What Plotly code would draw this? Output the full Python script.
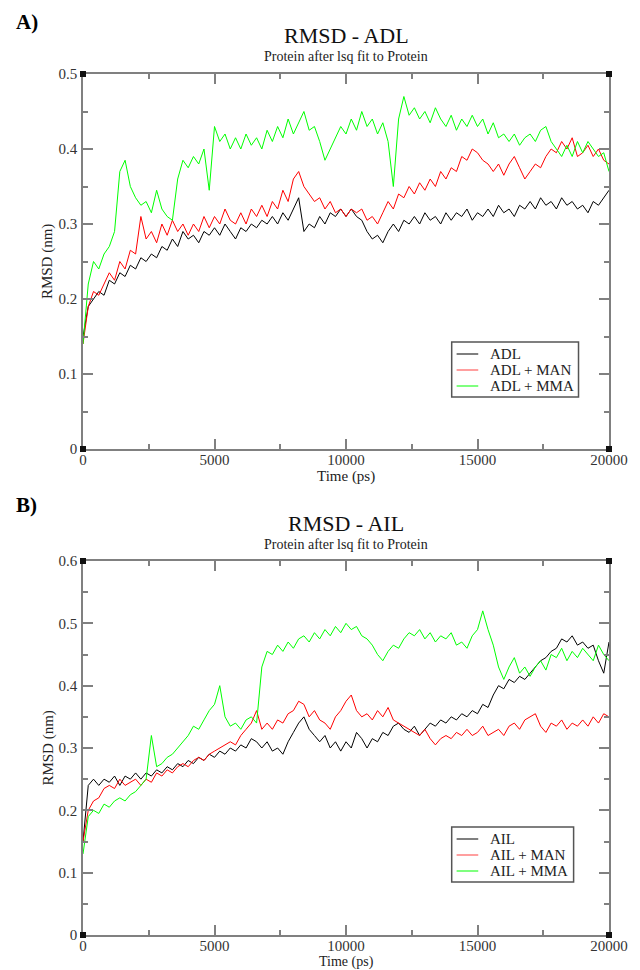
import plotly.graph_objects as go

# ---------------- data ----------------
time_ps = list(range(0, 20001, 200))

adl = [0.15, 0.19, 0.20, 0.21, 0.205, 0.225, 0.22, 0.235, 0.23, 0.245,
       0.24, 0.255, 0.25, 0.26, 0.255, 0.27, 0.265, 0.28, 0.27, 0.29,
       0.28, 0.285, 0.275, 0.29, 0.285, 0.295, 0.285, 0.30, 0.29, 0.28,
       0.295, 0.29, 0.30, 0.295, 0.305, 0.30, 0.31, 0.30, 0.315, 0.305,
       0.32, 0.335, 0.29, 0.30, 0.295, 0.31, 0.30, 0.315, 0.31, 0.32,
       0.31, 0.32, 0.31, 0.305, 0.29, 0.28, 0.285, 0.275, 0.29, 0.30,
       0.29, 0.305, 0.30, 0.31, 0.30, 0.315, 0.305, 0.31, 0.30, 0.315,
       0.305, 0.315, 0.31, 0.32, 0.305, 0.315, 0.31, 0.32, 0.31, 0.325,
       0.315, 0.32, 0.31, 0.325, 0.32, 0.33, 0.32, 0.335, 0.325, 0.33,
       0.32, 0.335, 0.325, 0.33, 0.32, 0.325, 0.315, 0.33, 0.325, 0.335,
       0.345]

adl_man = [0.14, 0.19, 0.21, 0.205, 0.22, 0.235, 0.225, 0.25, 0.24, 0.265,
           0.26, 0.31, 0.28, 0.29, 0.275, 0.30, 0.285, 0.305, 0.29, 0.30,
           0.285, 0.30, 0.29, 0.31, 0.295, 0.31, 0.30, 0.32, 0.305, 0.30,
           0.315, 0.30, 0.32, 0.31, 0.325, 0.31, 0.33, 0.32, 0.345, 0.33,
           0.36, 0.37, 0.35, 0.34, 0.33, 0.335, 0.32, 0.33, 0.315, 0.32,
           0.31, 0.32, 0.315, 0.32, 0.305, 0.31, 0.30, 0.315, 0.33, 0.32,
           0.34, 0.335, 0.35, 0.34, 0.355, 0.345, 0.36, 0.35, 0.37, 0.36,
           0.375, 0.37, 0.39, 0.385, 0.40, 0.395, 0.385, 0.38, 0.37, 0.38,
           0.365, 0.38, 0.39, 0.375, 0.36, 0.37, 0.38, 0.375, 0.39, 0.40,
           0.395, 0.41, 0.40, 0.415, 0.39, 0.395, 0.405, 0.39, 0.40, 0.385,
           0.38]

adl_mma = [0.14, 0.22, 0.25, 0.24, 0.26, 0.27, 0.29, 0.37, 0.385, 0.35,
           0.335, 0.325, 0.33, 0.315, 0.345, 0.32, 0.31, 0.305, 0.36, 0.385,
           0.375, 0.39, 0.38, 0.40, 0.345, 0.43, 0.41, 0.42, 0.40, 0.415,
           0.40, 0.42, 0.405, 0.415, 0.40, 0.425, 0.41, 0.43, 0.415, 0.44,
           0.42, 0.435, 0.45, 0.425, 0.43, 0.41, 0.385, 0.40, 0.415, 0.43,
           0.42, 0.44, 0.425, 0.45, 0.43, 0.44, 0.42, 0.435, 0.41, 0.35,
           0.44, 0.47, 0.445, 0.455, 0.44, 0.45, 0.435, 0.455, 0.44, 0.43,
           0.445, 0.425, 0.44, 0.43, 0.445, 0.43, 0.44, 0.42, 0.435, 0.415,
           0.42, 0.41, 0.42, 0.405, 0.415, 0.42, 0.41, 0.425, 0.43, 0.41,
           0.40, 0.39, 0.405, 0.39, 0.41, 0.395, 0.41, 0.40, 0.39, 0.395,
           0.37]

ail = [0.15, 0.24, 0.25, 0.24, 0.25, 0.245, 0.255, 0.24, 0.255, 0.25,
       0.26, 0.25, 0.26, 0.255, 0.265, 0.26, 0.27, 0.265, 0.275, 0.27,
       0.28, 0.275, 0.285, 0.28, 0.29, 0.285, 0.295, 0.29, 0.30, 0.295,
       0.305, 0.30, 0.315, 0.31, 0.30, 0.31, 0.295, 0.30, 0.29, 0.31,
       0.325, 0.34, 0.35, 0.33, 0.32, 0.31, 0.32, 0.30, 0.31, 0.295,
       0.31, 0.30, 0.325, 0.315, 0.30, 0.315, 0.31, 0.325, 0.32, 0.335,
       0.34, 0.33, 0.325, 0.335, 0.32, 0.33, 0.34, 0.335, 0.345, 0.34,
       0.35, 0.345, 0.355, 0.35, 0.36, 0.355, 0.37, 0.365, 0.385, 0.40,
       0.395, 0.41, 0.405, 0.415, 0.41, 0.42, 0.43, 0.44, 0.445, 0.455,
       0.46, 0.475, 0.47, 0.48, 0.465, 0.47, 0.46, 0.465, 0.44, 0.42,
       0.47]

ail_man = [0.15, 0.20, 0.215, 0.22, 0.235, 0.24, 0.235, 0.25, 0.24, 0.245,
           0.25, 0.24, 0.25, 0.245, 0.26, 0.255, 0.265, 0.26, 0.27, 0.275,
           0.27, 0.28, 0.285, 0.28, 0.29, 0.295, 0.30, 0.305, 0.31, 0.305,
           0.32, 0.33, 0.34, 0.36, 0.33, 0.34, 0.33, 0.345, 0.34, 0.355,
           0.36, 0.375, 0.37, 0.35, 0.36, 0.345, 0.34, 0.33, 0.35, 0.36,
           0.375, 0.385, 0.36, 0.35, 0.355, 0.345, 0.36, 0.35, 0.365, 0.345,
           0.34, 0.335, 0.33, 0.325, 0.32, 0.33, 0.315, 0.305, 0.315, 0.32,
           0.315, 0.325, 0.32, 0.33, 0.32, 0.325, 0.335, 0.32, 0.325, 0.33,
           0.32, 0.335, 0.34, 0.33, 0.345, 0.35, 0.355, 0.335, 0.325, 0.34,
           0.335, 0.345, 0.33, 0.34, 0.335, 0.345, 0.335, 0.35, 0.34, 0.355,
           0.35]

ail_mma = [0.13, 0.19, 0.20, 0.195, 0.21, 0.205, 0.215, 0.22, 0.215, 0.225,
           0.23, 0.24, 0.25, 0.32, 0.27, 0.275, 0.285, 0.29, 0.30, 0.31,
           0.32, 0.335, 0.33, 0.345, 0.36, 0.37, 0.40, 0.35, 0.335, 0.34,
           0.33, 0.345, 0.35, 0.34, 0.43, 0.455, 0.45, 0.465, 0.455, 0.47,
           0.46, 0.475, 0.48, 0.47, 0.485, 0.475, 0.49, 0.48, 0.495, 0.485,
           0.50, 0.49, 0.495, 0.48, 0.475, 0.465, 0.45, 0.44, 0.455, 0.465,
           0.46, 0.475, 0.485, 0.48, 0.49, 0.475, 0.485, 0.47, 0.48, 0.475,
           0.485, 0.465, 0.47, 0.46, 0.48, 0.49, 0.52, 0.49, 0.465, 0.43,
           0.41, 0.43, 0.445, 0.42, 0.43, 0.415, 0.43, 0.44, 0.425, 0.45,
           0.445, 0.46, 0.44, 0.455, 0.445, 0.46, 0.45, 0.44, 0.465, 0.45,
           0.44]

x_ticks = [0, 5000, 10000, 15000, 20000]
x_ticktext = ["0", "5000", "10000", "15000", "20000"]
y_ticks_a = [0, 0.1, 0.2, 0.3, 0.4, 0.5]
y_ticks_b = [0, 0.1, 0.2, 0.3, 0.4, 0.5, 0.6]
series_a = [("ADL", adl), ("ADL + MAN", adl_man), ("ADL + MMA", adl_mma)]
series_b = [("AIL", ail), ("AIL + MAN", ail_man), ("AIL + MMA", ail_mma)]
colors = ["#000000", "#ff0000", "#00ff00"]
legend_colors = ["#555555", "#ff7f7f", "#55ff55"]

# ---------------- figure ----------------
FONT = "Liberation Serif, Times New Roman, serif"
W, H = 640, 970
ML, MR, MT, MB = 83, 22, 74, 35
PW = W - ML - MR
PH = H - MT - MB
FRAME = "#808080"

def py(p):  # pixel y -> paper y
    return 1 - (p - MT) / PH

def px(p):  # pixel x -> paper x
    return (p - ML) / PW

fig = go.Figure()
for (name, vals), c in zip(series_a, colors):
    fig.add_trace(go.Scatter(x=time_ps, y=vals, mode="lines", name=name,
                             line=dict(color=c, width=1), xaxis="x", yaxis="y",
                             showlegend=False))
for (name, vals), c in zip(series_b, colors):
    fig.add_trace(go.Scatter(x=time_ps, y=vals, mode="lines", name=name,
                             line=dict(color=c, width=1), xaxis="x2", yaxis="y2",
                             showlegend=False))

axis_common = dict(showline=True, linecolor=FRAME, linewidth=1.5, mirror="allticks",
                   ticks="inside", ticklen=10, tickcolor=FRAME, tickwidth=1.5,
                   showgrid=False, zeroline=False,
                   tickfont=dict(family=FONT, size=15, color="#333333"))
xminor = dict(dtick=2500, ticks="inside", ticklen=5, tickcolor=FRAME, tickwidth=1.5)
yminor = dict(dtick=0.05, ticks="inside", ticklen=5, tickcolor=FRAME, tickwidth=1.5)

ya_top, ya_bot = py(74), py(449)
yb_top, yb_bot = py(561), py(935)

fig.update_layout(
    width=W, height=H,
    margin=dict(l=ML, r=MR, t=MT, b=MB),
    paper_bgcolor="white", plot_bgcolor="white",
    font=dict(family=FONT, color="#222222"),
    showlegend=False,
    xaxis=dict(domain=[0, 1], range=[0, 20000], tickvals=x_ticks, ticktext=x_ticktext,
               anchor="y", minor=xminor, ticklabelstandoff=-4, **axis_common),
    yaxis=dict(domain=[ya_bot, ya_top], range=[0, 0.5], tickvals=y_ticks_a,
               tickformat="~g", anchor="x", minor=yminor, ticklabelstandoff=1,
               **axis_common),
    xaxis2=dict(domain=[0, 1], range=[0, 20000], tickvals=x_ticks, ticktext=x_ticktext,
                anchor="y2", minor=xminor, ticklabelstandoff=-4, **axis_common),
    yaxis2=dict(domain=[yb_bot, yb_top], range=[0, 0.6], tickvals=y_ticks_b,
                tickformat="~g", anchor="x2", minor=yminor, ticklabelstandoff=1,
                **axis_common),
)

ann = []
shapes = []

def text(t, x, y, size, anchor="center", angle=0, color="#222222", bold=False):
    ann.append(dict(text=("<b>%s</b>" % t) if bold else t, x=px(x), y=py(y),
                    xref="paper", yref="paper", xanchor=anchor, yanchor="middle",
                    showarrow=False, textangle=angle,
                    font=dict(family=FONT, size=size, color=color)))

cx = (83 + 618) / 2
# panel labels, titles, subtitles
text("A)", 13, 22, 21, anchor="left", color="#000000", bold=True)
text("B)", 13, 505, 21, anchor="left", color="#000000", bold=True)
text("RMSD - ADL", cx, 36, 22, color="#111111")
text("Protein after lsq fit to Protein", cx, 57, 14)
text("RMSD - AIL", cx, 523, 22, color="#111111")
text("Protein after lsq fit to Protein", cx, 544, 14)
# axis titles
text("Time (ps)", cx, 477, 15)
text("Time (ps)", cx, 962, 14)
text("RMSD (nm)", 47, (74 + 449) / 2, 15, angle=-90)
text("RMSD (nm)", 47, (561 + 935) / 2, 15, angle=-90)

# legends (Grace style boxes)
def legend(names, box, rows):
    x0, y0, x1, y1 = box
    shapes.append(dict(type="rect", xref="paper", yref="paper",
                       x0=px(x0), x1=px(x1), y0=py(y0), y1=py(y1),
                       line=dict(color="#555555", width=1.5), fillcolor="white"))
    for name, col, ry in zip(names, legend_colors, rows):
        shapes.append(dict(type="line", xref="paper", yref="paper",
                           x0=px(463), x1=px(485), y0=py(ry), y1=py(ry),
                           line=dict(color=col, width=1.5)))
        text(name, 495, ry, 15, anchor="left")

legend([s[0] for s in series_a], (458, 342, 587, 397), (354, 370, 386))
legend([s[0] for s in series_b], (458, 827, 582, 882), (839, 855, 871))

# corner squares (Grace style)
for xr, yr in [("x domain", "y domain"), ("x2 domain", "y2 domain")]:
    for cxn in (0, 1):
        for cyn in (0, 1):
            shapes.append(dict(type="rect", xref=xr, yref=yr, xsizemode="pixel",
                               ysizemode="pixel", xanchor=cxn, yanchor=cyn,
                               x0=-3, x1=3, y0=-3, y1=3,
                               fillcolor="#111111", line=dict(width=0)))

fig.update_layout(annotations=ann, shapes=shapes)
fig.write_html("out.html", config={"displayModeBar": False},
               post_script="document.body.style.margin='0';"
                           "document.body.style.padding='0';"
                           "document.body.style.overflow='hidden';")
